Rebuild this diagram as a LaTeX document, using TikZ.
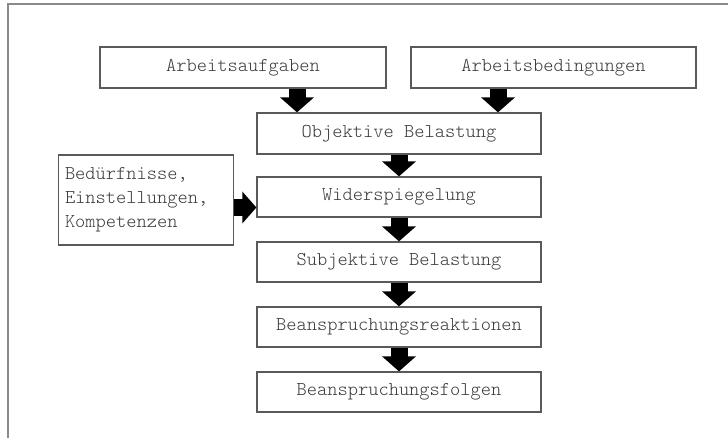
\documentclass[tikz,border=0pt]{standalone}
\usepackage{fontspec}
\setmonofont{Latin Modern Mono Light}
\usetikzlibrary{arrows.meta}
\definecolor{boxline}{HTML}{5A5A5A}
\definecolor{txt}{HTML}{3A3A3A}
\definecolor{frameline}{HTML}{8A8A8A}
\begin{document}
\begin{tikzpicture}[x=1pt,y=-1pt,
  box/.style={draw=boxline,line width=1.2pt,fill=white,inner sep=0pt,
    minimum height=41pt,text=txt,font=\fontsize{19.5}{24}\selectfont\ttfamily},
  fat/.style={line width=17pt,line cap=butt,
    -{Triangle[width=33pt,length=15pt]}},
  fath/.style={line width=17pt,line cap=butt,
    -{Triangle[width=31pt,length=14pt]}}]
\useasboundingbox (0,0) rectangle (728,438);
\draw[frameline,line width=2pt] (8,438) -- (8,4.5) -- (729,4.5);

\node[box,minimum width=286pt] (A) at (243,67.5) {Arbeitsaufgaben};
\node[box,minimum width=285pt] (B) at (553.5,67.5) {Arbeitsbedingungen};
\node[box,minimum width=284pt] (O) at (399,133.5) {Objektive Belastung};
\node[box,minimum width=284pt,minimum height=40pt] (W) at (399,197) {Widerspiegelung};
\node[box,minimum width=284pt,minimum height=40pt] (S) at (399,262) {Subjektive Belastung};
\node[box,minimum width=284pt,minimum height=40pt] (R) at (399,327) {Beanspruchungsreaktionen};
\node[box,minimum width=284pt,minimum height=40pt] (F) at (399,392) {Beanspruchungsfolgen};
\node[box,minimum width=175pt,minimum height=90pt,align=left,text width=162pt,
  inner xsep=0pt] (N) at (146,200)
  {Bedürfnisse,\\Einstellungen,\\Kompetenzen};

\coordinate (xa) at (297,0);
\coordinate (xb) at (498,0);
\coordinate (yn) at (0,207.5);

\draw[fat] (A.south -| xa) -- (O.north -| xa);
\draw[fat] (B.south -| xb) -- (O.north -| xb);
\draw[fat] (O.south) -- (W.north);
\draw[fat] (W.south) -- (S.north);
\draw[fat] (S.south) -- (R.north);
\draw[fat] (R.south) -- (F.north);
\draw[fath] (N.east |- yn) -- (W.west |- yn);
\end{tikzpicture}
\end{document}
